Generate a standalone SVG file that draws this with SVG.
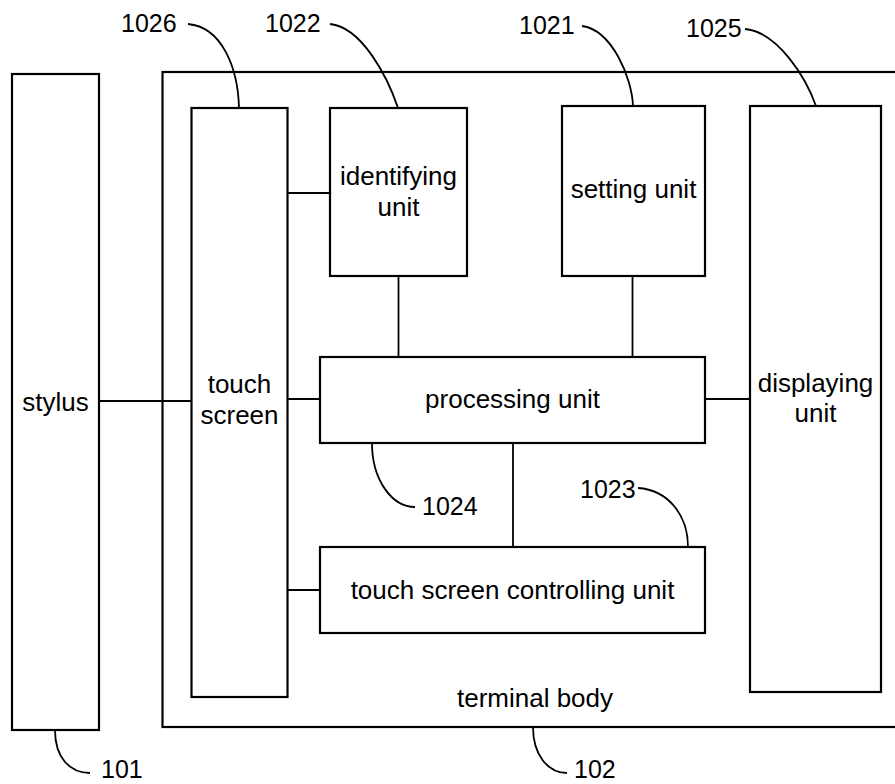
<svg xmlns="http://www.w3.org/2000/svg" width="895" height="784" viewBox="0 0 895 784">
<style>
.box{fill:#fff;stroke:#000;stroke-width:2.2}
.frame{fill:none;stroke:#000;stroke-width:2.2}
.con{fill:none;stroke:#000;stroke-width:1.8}
.lead{fill:none;stroke:#000;stroke-width:1.8}
.lbl{font-family:"Liberation Sans",Arial,sans-serif;font-size:26px;fill:#000;text-anchor:middle}
.num{font-family:"Liberation Sans",Arial,sans-serif;font-size:25px;fill:#000}
</style>
<rect width="895" height="784" fill="#fff"/>
<g id="terminal-body">
<rect class="frame" x="162.5" y="72" width="740" height="655"/>
<text class="lbl" x="535" y="707">terminal body</text>
</g>
<g id="connectors">
<line class="con" x1="99" y1="401" x2="191.5" y2="401"/>
<line class="con" x1="287.5" y1="193" x2="330" y2="193"/>
<line class="con" x1="287.5" y1="399" x2="320" y2="399"/>
<line class="con" x1="287.5" y1="590" x2="320" y2="590"/>
<line class="con" x1="398.5" y1="276" x2="398.5" y2="357"/>
<line class="con" x1="632.5" y1="276" x2="632.5" y2="357"/>
<line class="con" x1="705" y1="399" x2="750" y2="399"/>
<line class="con" x1="513" y1="443" x2="513" y2="547"/>
</g>
<g id="stylus">
<rect class="box" x="12" y="74" width="87" height="656"/>
<text class="lbl" x="55.5" y="411">stylus</text>
</g>
<g id="touch-screen">
<rect class="box" x="191.5" y="108" width="96" height="589"/>
<text class="lbl" x="239.5" y="393">touch</text>
<text class="lbl" x="239.5" y="424">screen</text>
</g>
<g id="identifying-unit">
<rect class="box" x="330" y="108" width="137" height="168"/>
<text class="lbl" x="398.5" y="185">identifying</text>
<text class="lbl" x="398.5" y="216">unit</text>
</g>
<g id="setting-unit">
<rect class="box" x="562" y="106" width="143" height="170"/>
<text class="lbl" x="633.5" y="198">setting unit</text>
</g>
<g id="displaying-unit">
<rect class="box" x="750" y="106" width="131" height="586"/>
<text class="lbl" x="815.5" y="392">displaying</text>
<text class="lbl" x="815.5" y="422">unit</text>
</g>
<g id="processing-unit">
<rect class="box" x="320" y="357" width="385" height="86"/>
<text class="lbl" x="512.5" y="408">processing unit</text>
</g>
<g id="touch-screen-controlling-unit">
<rect class="box" x="320" y="547" width="385" height="86"/>
<text class="lbl" x="512.5" y="599">touch screen controlling unit</text>
</g>
<g id="leaders">
<path class="lead" d="M188,24 C222,27 238,68 239,108"/>
<text class="num" x="121" y="32">1026</text>
<path class="lead" d="M330,24 C362,27 388,78 398,108"/>
<text class="num" x="265" y="32">1022</text>
<path class="lead" d="M582,26 C612,30 632,78 633,106"/>
<text class="num" x="519" y="34">1021</text>
<path class="lead" d="M745,29 C778,32 806,78 816,106"/>
<text class="num" x="686" y="37">1025</text>
<path class="lead" d="M372,443 C372,480 392,507 415,507"/>
<text class="num" x="422" y="515">1024</text>
<path class="lead" d="M638,488 C668,490 688,515 688,547"/>
<text class="num" x="580" y="498">1023</text>
<path class="lead" d="M55,730 C55,758 70,773 90,773"/>
<text class="num" x="101" y="778">101</text>
<path class="lead" d="M533,727 C533,755 548,773 567,773"/>
<text class="num" x="574" y="778">102</text>
</g>
</svg>
